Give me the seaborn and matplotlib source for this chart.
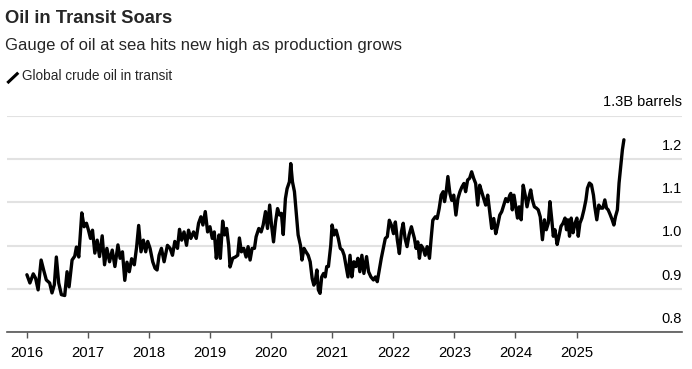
import pandas as pd
import matplotlib
matplotlib.use("Agg")
import matplotlib.pyplot as plt
from matplotlib.transforms import offset_copy
from matplotlib.lines import Line2D
import seaborn as sns

# Global crude oil in transit, billion barrels
dates = [
    # 2016
    "2016-01-03", "2016-01-21", "2016-02-10", "2016-02-24", "2016-03-10", "2016-03-28",
    "2016-04-12", "2016-04-28", "2016-05-18", "2016-06-01", "2016-06-15", "2016-06-27",
    "2016-07-11", "2016-07-27", "2016-08-16", "2016-08-30", "2016-09-11", "2016-09-29",
    "2016-10-15", "2016-10-25", "2016-11-08", "2016-11-26", "2016-12-10", "2016-12-24",
    # 2017
    "2017-01-05", "2017-01-17", "2017-01-29", "2017-02-12", "2017-02-26", "2017-03-12",
    "2017-03-28", "2017-04-11", "2017-04-25", "2017-05-11", "2017-05-27", "2017-06-12",
    "2017-06-30", "2017-07-13", "2017-07-27", "2017-08-10", "2017-08-23", "2017-09-06",
    "2017-09-20", "2017-10-06", "2017-10-20", "2017-11-01", "2017-11-15", "2017-11-29",
    "2017-12-13", "2017-12-25",
    # 2018
    "2018-01-08", "2018-01-24", "2018-02-07", "2018-02-19", "2018-03-03", "2018-03-17",
    "2018-04-02", "2018-04-22", "2018-05-08", "2018-05-22", "2018-06-05", "2018-06-21",
    "2018-07-03", "2018-07-16", "2018-07-30", "2018-08-14", "2018-08-26", "2018-09-09",
    "2018-09-25", "2018-10-11", "2018-10-25", "2018-11-08", "2018-11-20", "2018-12-04",
    "2018-12-18",
    # 2019
    "2019-01-01", "2019-01-15", "2019-01-27", "2019-02-08", "2019-02-14", "2019-02-24",
    "2019-03-04", "2019-03-18", "2019-03-30", "2019-04-11", "2019-04-23", "2019-05-01",
    "2019-05-17", "2019-06-02", "2019-06-16", "2019-06-26", "2019-07-08", "2019-07-22",
    "2019-08-05", "2019-08-17", "2019-08-29", "2019-09-10", "2019-09-24", "2019-10-04",
    "2019-10-20", "2019-11-03", "2019-11-15", "2019-11-29", "2019-12-11", "2019-12-24",
    # 2020
    "2020-01-04", "2020-01-16", "2020-01-28", "2020-02-09", "2020-02-21", "2020-03-03",
    "2020-03-14", "2020-03-27", "2020-04-06", "2020-04-20", "2020-04-28", "2020-05-08",
    "2020-05-20", "2020-06-01", "2020-06-11", "2020-06-25", "2020-07-04", "2020-07-16",
    "2020-07-28", "2020-08-10", "2020-08-22", "2020-09-03", "2020-09-13", "2020-09-21",
    "2020-10-01", "2020-10-10", "2020-10-20", "2020-10-30", "2020-11-10", "2020-11-20",
    "2020-11-29", "2020-12-09", "2020-12-23", "2020-12-31",
    # 2021
    "2021-01-12", "2021-01-24", "2021-02-06", "2021-02-18", "2021-03-02", "2021-03-13",
    "2021-03-23", "2021-04-05", "2021-04-17", "2021-04-28", "2021-05-10", "2021-05-22",
    "2021-06-03", "2021-06-15", "2021-06-27", "2021-07-09", "2021-07-25", "2021-08-06",
    "2021-08-20", "2021-09-04", "2021-09-16", "2021-09-27", "2021-10-09", "2021-10-21",
    "2021-11-02", "2021-11-14", "2021-11-26", "2021-12-08", "2021-12-20",
    # 2022
    "2022-01-02", "2022-01-13", "2022-01-25", "2022-02-06", "2022-02-18", "2022-03-01",
    "2022-03-12", "2022-03-24", "2022-04-05", "2022-04-19", "2022-05-07", "2022-05-17",
    "2022-05-27", "2022-06-06", "2022-06-16", "2022-06-28", "2022-07-10", "2022-07-22",
    "2022-08-05", "2022-08-15", "2022-08-25", "2022-09-09", "2022-09-20", "2022-10-02",
    "2022-10-14", "2022-10-26", "2022-11-03", "2022-11-13", "2022-11-23", "2022-12-05",
    "2022-12-16", "2022-12-28",
    # 2023
    "2023-01-10", "2023-01-22", "2023-02-03", "2023-02-15", "2023-02-27", "2023-03-09",
    "2023-03-21", "2023-04-02", "2023-04-14", "2023-04-26", "2023-05-08", "2023-05-20",
    "2023-06-01", "2023-06-13", "2023-06-25", "2023-07-07", "2023-07-19", "2023-07-31",
    "2023-08-12", "2023-08-24", "2023-09-05", "2023-09-17", "2023-09-29", "2023-10-11",
    "2023-10-23", "2023-11-04", "2023-11-16", "2023-11-28", "2023-12-04", "2023-12-13",
    "2023-12-23",
    # 2024
    "2024-01-03", "2024-01-13", "2024-01-23", "2024-02-04", "2024-02-16", "2024-02-28",
    "2024-03-10", "2024-03-22", "2024-04-01", "2024-04-11", "2024-04-23", "2024-05-05",
    "2024-05-16", "2024-05-28", "2024-06-10", "2024-06-22", "2024-07-03", "2024-07-15",
    "2024-07-25", "2024-08-05", "2024-08-14", "2024-08-24", "2024-09-06", "2024-09-17",
    "2024-09-29", "2024-10-11", "2024-10-23", "2024-11-01", "2024-11-09", "2024-11-19",
    "2024-11-29", "2024-12-10", "2024-12-22",
    # 2025
    "2025-01-02", "2025-01-10", "2025-01-20", "2025-02-01", "2025-02-13", "2025-02-25",
    "2025-03-06", "2025-03-18", "2025-03-30", "2025-04-11", "2025-04-19", "2025-05-01",
    "2025-05-13", "2025-05-25", "2025-06-06", "2025-06-18", "2025-06-28", "2025-07-08",
    "2025-07-20", "2025-08-01", "2025-08-11", "2025-08-21", "2025-09-01", "2025-09-11",
    "2025-09-21", "2025-10-01", "2025-10-10",
]

values = [
    # 2016
    0.933, 0.914, 0.935, 0.925, 0.898, 0.967, 0.944, 0.921, 0.914, 0.891, 0.910, 0.974,
    0.914, 0.887, 0.885, 0.940, 0.905, 0.967, 0.976, 0.997, 0.974, 1.076, 1.044, 1.052,
    # 2017
    1.036, 1.017, 1.036, 0.983, 1.013, 0.975, 1.023, 0.956, 0.994, 0.963, 0.990, 0.952,
    1.002, 0.971, 0.986, 0.920, 0.962, 0.940, 0.970, 0.956, 0.998, 1.047, 0.986, 1.013,
    0.986, 1.010,
    # 2018
    0.994, 0.963, 0.948, 0.944, 0.978, 0.994, 0.963, 1.001, 0.994, 0.978, 1.010, 0.994,
    1.038, 1.013, 1.032, 1.001, 1.036, 1.017, 1.032, 1.017, 1.052, 1.067, 1.048, 1.079,
    1.032,
    # 2019
    1.044, 1.017, 1.032, 0.971, 0.994, 1.025, 0.971, 1.057, 1.025, 1.040, 1.001, 0.951,
    0.971, 0.974, 0.978, 1.018, 0.986, 0.994, 0.974, 0.998, 0.967, 0.994, 0.994, 1.021,
    1.040, 1.032, 1.048, 1.079, 1.040, 1.094,
    # 2020
    1.048, 1.009, 1.055, 1.086, 1.071, 1.075, 1.026, 1.109, 1.132, 1.148, 1.190, 1.148,
    1.125, 1.071, 1.025, 1.001, 0.967, 0.994, 0.986, 0.978, 0.963, 0.924, 0.909, 0.917,
    0.944, 0.898, 0.890, 0.928, 0.936, 0.928, 0.952, 0.952, 1.001, 1.048,
    # 2021
    1.025, 1.036, 1.017, 0.994, 0.990, 0.978, 0.956, 0.928, 0.978, 0.928, 0.963, 0.952,
    0.971, 0.940, 0.978, 0.936, 0.975, 0.940, 0.928, 0.921, 0.928, 0.917, 0.944, 0.971,
    0.994, 1.017, 1.021, 1.059, 1.048,
    # 2022
    1.028, 1.055, 1.013, 0.982, 1.032, 1.052, 1.017, 0.998, 1.025, 1.044, 1.017, 0.994,
    1.009, 0.971, 1.001, 0.994, 0.978, 0.998, 0.971, 1.017, 1.059, 1.067, 1.063, 1.086,
    1.117, 1.125, 1.102, 1.125, 1.160, 1.121, 1.105, 1.117,
    # 2023
    1.071, 1.109, 1.125, 1.136, 1.144, 1.125, 1.152, 1.156, 1.171, 1.156, 1.144, 1.094,
    1.140, 1.125, 1.109, 1.094, 1.117, 1.078, 1.040, 1.063, 1.028, 1.048, 1.071, 1.079,
    1.094, 1.109, 1.102, 1.117, 1.121, 1.083, 1.117,
    # 2024
    1.090, 1.064, 1.090, 1.060, 1.140, 1.117, 1.090, 1.113, 1.129, 1.106, 1.090, 1.087,
    1.083, 1.067, 1.014, 1.060, 1.037, 1.052, 1.102, 1.060, 1.022, 1.037, 1.003, 1.022,
    1.045, 1.052, 1.064, 1.037, 1.060, 1.022, 1.064, 1.030, 1.052,
    # 2025
    1.064, 1.022, 1.052, 1.064, 1.083, 1.106, 1.133, 1.145, 1.141, 1.117, 1.090, 1.060,
    1.094, 1.087, 1.087, 1.106, 1.087, 1.083, 1.072, 1.060, 1.048, 1.068, 1.083, 1.145,
    1.183, 1.222, 1.245,
]

x_tick_labels = ["2016", "2017", "2018", "2019", "2020",
                 "2021", "2022", "2023", "2024", "2025"]
y_ticks = [0.8, 0.9, 1.0, 1.1, 1.2, 1.3]
y_labels = ["0.8", "0.9", "1.0", "1.1", "1.2", "1.3B barrels"]

title = "Oil in Transit Soars"
subtitle = "Gauge of oil at sea hits new high as production grows"
legend_label = "Global crude oil in transit"

df = pd.DataFrame({"date": pd.to_datetime(dates), "value": values})

sns.set_theme(style="white")
plt.rcParams["font.family"] = ["Liberation Sans", "DejaVu Sans"]

fig = plt.figure(figsize=(6.92, 3.69), dpi=100)
ax = fig.add_axes([0.0101, 0.0995, 0.9754, 0.5862])

sns.lineplot(data=df, x="date", y="value", ax=ax, color="black",
             linewidth=2.4, solid_joinstyle="round", zorder=3)

ax.set_ylim(0.8, 1.3)
ax.set_xlim(pd.Timestamp("2015-09-06"), pd.Timestamp("2026-09-22"))
ax.set_xlabel("")
ax.set_ylabel("")

# horizontal gridlines, labels sit above each line on the right
ax.set_yticks(y_ticks)
ax.yaxis.grid(True, color="#e2e2e2", linewidth=1.5)
ax.tick_params(axis="y", left=False, right=False, labelleft=False)
lbl_trans = offset_copy(ax.get_yaxis_transform(), fig=fig, y=9.5, units="dots")
for v, s in zip(y_ticks, y_labels):
    ax.text(1.0, v, s, transform=lbl_trans, ha="right", va="baseline",
            fontsize=10.5, color="black")

ax.set_xticks(pd.to_datetime([y + "-01-01" for y in x_tick_labels]))
ax.set_xticklabels(x_tick_labels)
ax.tick_params(axis="x", direction="out", length=4.2, width=1.0, color="#555555",
               labelsize=10.7, pad=6, labelcolor="black", bottom=True)

for side in ["left", "right", "top"]:
    ax.spines[side].set_visible(False)
ax.spines["bottom"].set_color("#555555")
ax.spines["bottom"].set_linewidth(1.2)
ax.spines["bottom"].set_zorder(4)

# header
fig.text(0.0072, 0.9385, title, fontsize=13.2, fontweight="bold",
         va="baseline", ha="left")
fig.text(0.0072, 0.8645, subtitle, fontsize=12, va="baseline", ha="left")
fig.add_artist(Line2D([0.0106, 0.0264], [0.775, 0.803], color="black",
                      linewidth=2.2, solid_capstyle="butt", transform=fig.transFigure))
fig.text(0.0313, 0.7832, legend_label, fontsize=9.8, va="baseline", ha="left")

fig.savefig("out.png", dpi=100)
